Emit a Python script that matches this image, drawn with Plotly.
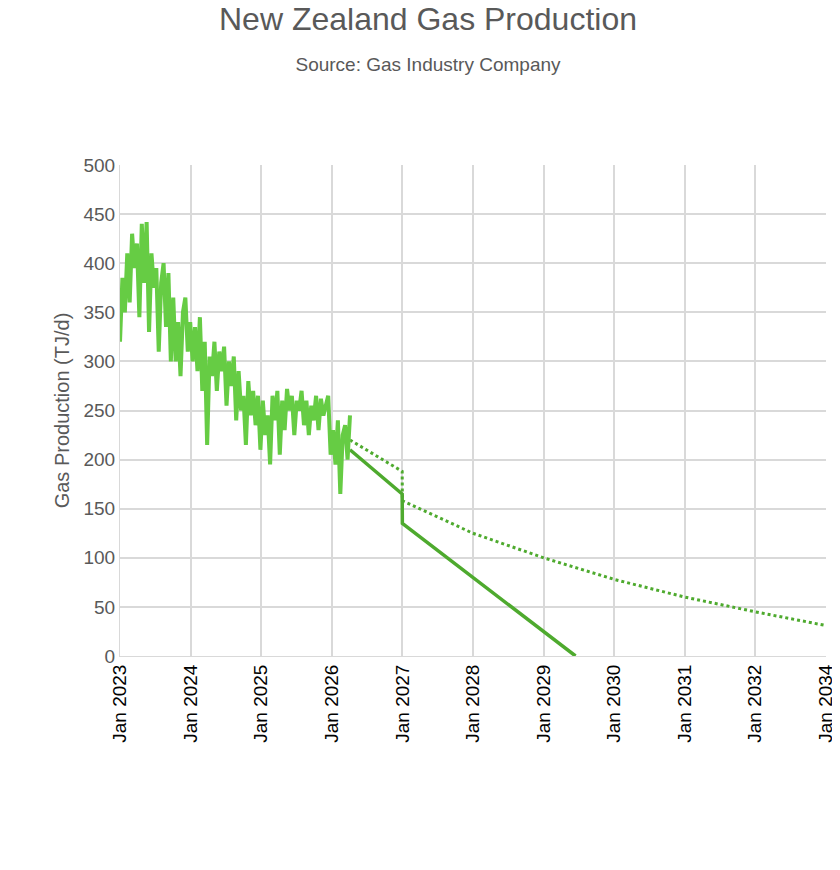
import pandas as pd
import plotly.graph_objects as go

# Observed production (TJ/d), sampled roughly every 12 days from Jan 2023 to early Apr 2026
obs_values = [
    320, 385, 350, 410, 360, 430, 395, 420, 345, 440, 380, 442, 330, 410, 375, 395,
    310, 380, 400, 335, 390, 300, 365, 300, 340, 285, 350, 365, 310, 340, 300, 335,
    290, 345, 270, 320, 215, 305, 285, 320, 270, 310, 290, 315, 255, 300, 275, 305,
    240, 290, 250, 265, 215, 280, 245, 270, 235, 265, 210, 260, 225, 245, 195, 265,
    240, 270, 205, 260, 230, 272, 250, 265, 225, 260, 250, 270, 235, 260, 225, 255,
    240, 265, 230, 262, 245, 255, 265, 205, 230, 195, 240, 165, 225, 235, 200, 245,
]
obs_dates = pd.date_range("2023-01-01", "2026-04-05", periods=len(obs_values))

# Projections
low_dates = ["2026-04-05", "2026-12-31", "2027-01-01", "2029-06-15"]
low_values = [210, 165, 135, 0]
high_dates = ["2026-04-05", "2026-12-31", "2027-01-01", "2028-01-01", "2029-01-01",
              "2030-01-01", "2031-01-01", "2032-01-01", "2033-01-01"]
high_values = [220, 188, 158, 125, 100, 78, 60, 45, 31]

tick_dates = [f"{y}-01-01" for y in range(2023, 2034)]
tick_text = [f"Jan {y}" for y in range(2023, 2033)] + ["Jan 2034"]

fig = go.Figure()
fig.add_trace(go.Scatter(x=high_dates, y=high_values, mode="lines",
                         line=dict(color="#4eaa2e", width=3, dash="dot")))
fig.add_trace(go.Scatter(x=low_dates, y=low_values, mode="lines",
                         line=dict(color="#4eaa2e", width=3.5)))
fig.add_trace(go.Scatter(x=obs_dates, y=obs_values, mode="lines",
                         line=dict(color="#66cc44", width=4)))

fig.update_layout(
    width=840, height=870,
    paper_bgcolor="white", plot_bgcolor="white",
    showlegend=False,
    font=dict(family="Liberation Sans, Arial", color="#595959"),
    margin=dict(l=112, r=12, t=157, b=222),
    title=dict(text="New Zealand Gas Production<br><span style='font-size:19px'>Source: Gas Industry Company</span>",
               x=0.5, xanchor="center", y=0.975, yanchor="top",
               font=dict(size=32, color="#595959")),
)
fig.update_xaxes(range=["2023-01-01", "2033-01-01"], tickvals=tick_dates, ticktext=tick_text,
                 tickangle=-90, tickfont=dict(size=19, color="#000000"),
                 showgrid=True, gridcolor="#d9d9d9", gridwidth=1.5,
                 showline=True, linecolor="#d9d9d9", ticks="")
fig.update_yaxes(range=[0, 500], dtick=50, tickfont=dict(size=19, color="#595959"),
                 showgrid=True, gridcolor="#d9d9d9", gridwidth=1.5,
                 title=dict(text="Gas Production (TJ/d)", font=dict(size=20, color="#595959"), standoff=8),
                 zeroline=False, showline=True, linecolor="#d9d9d9")

fig.write_html("out.html")
